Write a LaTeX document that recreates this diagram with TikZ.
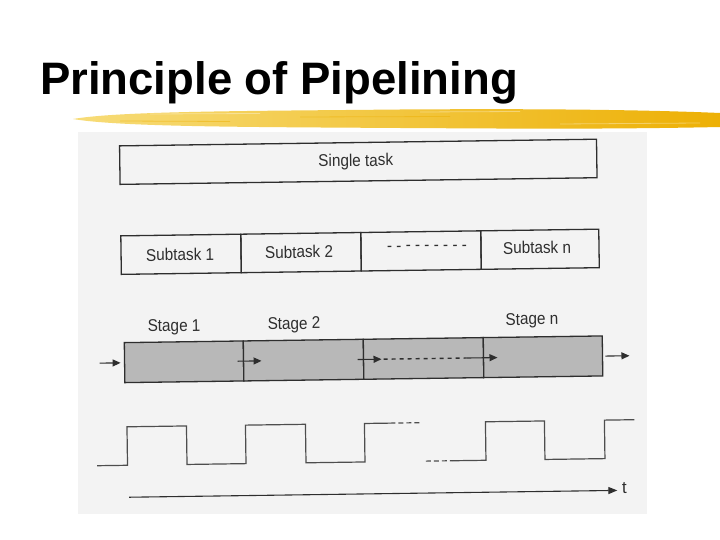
\documentclass[tikz,border=0pt]{standalone}
\usepackage{fontspec}
\usepackage{graphicx}
\setmainfont{Liberation Sans}
\usetikzlibrary{arrows.meta}
\definecolor{scanbg}{HTML}{F3F3F3}
\definecolor{ink}{HTML}{2E2E2E}
\definecolor{stagefill}{HTML}{B8B8B8}
\definecolor{brushA}{HTML}{F7DC78}
\definecolor{brushB}{HTML}{F3C622}
\definecolor{brushC}{HTML}{EDB005}
\newcommand{\narrowtext}[1]{\scalebox{0.9}[1]{#1}}
\begin{document}
\begin{tikzpicture}[x=1pt,y=-1pt,
  txt/.style={inner sep=0pt, text=ink, font=\fontsize{17}{20}\selectfont},
  box/.style={draw=ink, line width=1.3pt, inner sep=0pt},
  cell/.style={box, minimum width=120pt, minimum height=38.5pt},
  stagecell/.style={box, fill=stagefill, minimum width=120pt, minimum height=40pt},
  arr/.style={draw=ink, line width=1.1pt, -{Triangle[length=8pt,width=7pt]}},
  wave/.style={draw=ink!85, line width=1.2pt},
  shortdash/.style={dash pattern=on 5pt off 3pt}]
\useasboundingbox (0,0) rectangle (720,540);
\fill[white] (0,0) rectangle (720,540);
% title
\node[anchor=base west, inner sep=0pt, font=\bfseries\fontsize{45.5}{50}\selectfont] (title) at (40,95) {Principle of Pipelining};
% yellow brush stroke
\shade[left color=brushA, middle color=brushB, right color=brushC]
  (73,119) .. controls (120,111) and (250,111) .. (400,109.5)
  .. controls (550,108.5) and (650,110) .. (720,113) -- (720,127)
  .. controls (600,129.5) and (500,128.5) .. (400,128)
  .. controls (250,127) and (120,127) .. (73,119) -- cycle;
\draw[white, opacity=0.35, line width=0.8pt] (150,114) -- (260,113.5) (420,112) -- (520,111.5) (560,124) -- (700,123);
\draw[brushC, opacity=0.5, line width=0.8pt] (300,117) -- (450,116.5) (120,121) -- (230,121.5);
% scanned figure background
\fill[scanbg] (78,132) rectangle (647,514);
\begin{scope}[rotate around={0.8:(362,320)}, transform shape]
  % single task
  \node[box, minimum width=477pt, minimum height=38.5pt] (single) at (360.5,161.75) {};
  \node[txt] (singlelab) at (358,161.75) {\narrowtext{Single task}};
  % subtasks
  \node[cell] (sub1) at (182,251.75) {};
  \node[cell] (sub2) at (302,251.75) {};
  \node[cell] (sub3) at (422,251.75) {};
  \node[cell, minimum width=118pt] (subn) at (541,251.75) {};
  \node[txt] (sub1lab) at (181,252) {\narrowtext{Subtask 1}};
  \node[txt] (sub2lab) at (300,251) {\narrowtext{Subtask 2}};
  \node[txt] (subdots) at (428,249) {\narrowtext{- - - - - - - - -}};
  \node[txt] (subnlab) at (538,250) {\narrowtext{Subtask n}};
  % stages
  \node[stagecell, minimum width=119pt] (st1) at (183.5,359.3) {};
  \node[stagecell] (st2) at (303,359.3) {};
  \node[stagecell] (st3) at (423,359.3) {};
  \node[stagecell, minimum width=119pt] (stn) at (542.5,359.3) {};
  \node[txt] (lab1) at (174,324.7) {\narrowtext{Stage 1}};
  \node[txt] (lab2) at (294,324) {\narrowtext{Stage 2}};
  \node[txt] (labn) at (532,323) {\narrowtext{Stage n}};
  \coordinate (a0) at (99,359.5);
  \coordinate (a1) at (120,359.5);
  \coordinate (b0) at (237,359.5);
  \coordinate (b1) at (261,359.5);
  \coordinate (c0) at (357,359.5);
  \coordinate (c1) at (381,359.5);
  \coordinate (d0) at (383,359.5);
  \coordinate (d1) at (466,359.5);
  \coordinate (e0) at (466,359.5);
  \coordinate (e1) at (497,359.5);
  \coordinate (f0) at (605,359.5);
  \coordinate (f1) at (629,359.5);
  \draw[arr] (a0) -- (a1);
  \draw[arr] (b0) -- (b1);
  \draw[arr] (c0) -- (c1);
  \draw[draw=ink, line width=1.4pt, dash pattern=on 4pt off 4pt] (d0) -- (d1);
  \draw[arr] (e0) -- (e1);
  \draw[arr] (f0) -- (f1);
  % clock waveform
  \draw[wave] (95,462) -- (125.5,462) -- (125.5,423.5) -- (185,423.5) -- (185,462)
    -- (244,462) -- (244,423.5) -- (304,423.5) -- (304,462) -- (363,462)
    -- (363,423.5) -- (394,423.5);
  \draw[wave, shortdash] (397,423.5) -- (421,423.5);
  \draw[wave, shortdash] (424,462) -- (451,462);
  \draw[wave] (451,462) -- (484,462) -- (484,423.5) -- (543,423.5) -- (543,462)
    -- (603,462) -- (603,423.5) -- (633,423.5);
  % time axis
  \coordinate (t0) at (126.7,494);
  \coordinate (t1) at (615,494);
  \draw[draw=ink, line width=1.1pt, -{Triangle[length=9pt,width=7pt]}] (t0) -- (t1);
  \node[txt] (tlab) at (622,492) {t};
\end{scope}
\end{tikzpicture}
\end{document}
